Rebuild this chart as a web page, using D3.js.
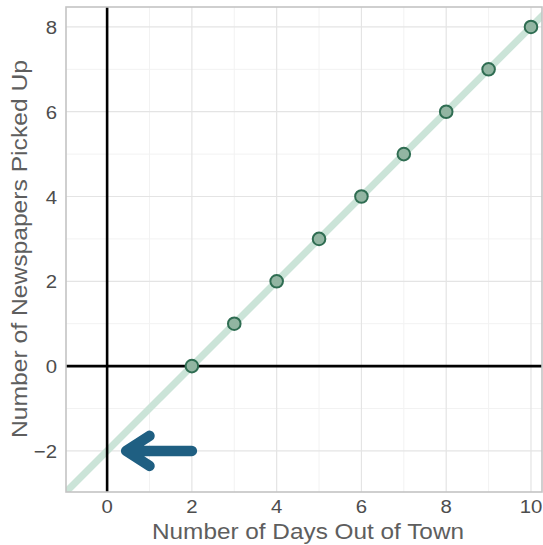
<!DOCTYPE html>
<html>
<head>
<meta charset="utf-8">
<script src="https://cdn.jsdelivr.net/npm/d3@7"></script>
<style>
  html, body { margin: 0; padding: 0; background: #fff; }
  svg { display: block; }
  text { font-family: "Liberation Sans", Arial, sans-serif; }
</style>
</head>
<body>
<svg id="chart" width="543" height="545"></svg>
<script>
// Days away vs. newspapers piled up at the door
const days = [2, 3, 4, 5, 6, 7, 8, 9, 10];
const papers = [0, 1, 2, 3, 4, 5, 6, 7, 8];
const xTicks = [0, 2, 4, 6, 8, 10];
const yTicks = [-2, 0, 2, 4, 6, 8];
const xMinor = [-1, 1, 3, 5, 7, 9];
const yMinor = [-1, 1, 3, 5, 7];
// Trend line y = x - 2, and the arrow marking its intercept
const lineX = [-2, 12];
const lineY = [-4, 10];
const arrowFrom = [2, -2];
const arrowTo = [0.45, -2];

const panel = { left: 66, right: 542, top: 7, bottom: 492 };

const svg = d3.select("#chart");
const x = d3.scaleLinear().domain([-0.97, 10.26]).range([panel.left, panel.right]);
const y = d3.scaleLinear().domain([-2.97, 8.47]).range([panel.bottom, panel.top]);

svg.append("clipPath").attr("id", "clip")
  .append("rect")
  .attr("x", panel.left).attr("y", panel.top)
  .attr("width", panel.right - panel.left).attr("height", panel.bottom - panel.top);

const g = svg.append("g").attr("clip-path", "url(#clip)");

// grid
g.selectAll(".xminor").data(xMinor).join("line")
  .attr("x1", d => x(d)).attr("x2", d => x(d))
  .attr("y1", panel.top).attr("y2", panel.bottom)
  .attr("stroke", "#f2f2f2").attr("stroke-width", 1);
g.selectAll(".yminor").data(yMinor).join("line")
  .attr("y1", d => y(d)).attr("y2", d => y(d))
  .attr("x1", panel.left).attr("x2", panel.right)
  .attr("stroke", "#f2f2f2").attr("stroke-width", 1);
g.selectAll(".xmajor").data(xTicks).join("line")
  .attr("x1", d => x(d)).attr("x2", d => x(d))
  .attr("y1", panel.top).attr("y2", panel.bottom)
  .attr("stroke", "#e4e4e4").attr("stroke-width", 1.2);
g.selectAll(".ymajor").data(yTicks).join("line")
  .attr("y1", d => y(d)).attr("y2", d => y(d))
  .attr("x1", panel.left).attr("x2", panel.right)
  .attr("stroke", "#e4e4e4").attr("stroke-width", 1.2);

// trend line
g.append("line")
  .attr("x1", x(lineX[0])).attr("y1", y(lineY[0]))
  .attr("x2", x(lineX[1])).attr("y2", y(lineY[1]))
  .attr("stroke", "#cbe4d8").attr("stroke-width", 7);

// coordinate axes through the origin
g.append("line")
  .attr("x1", x(0)).attr("x2", x(0))
  .attr("y1", panel.top).attr("y2", panel.bottom)
  .attr("stroke", "#000").attr("stroke-width", 2.6);
g.append("line")
  .attr("y1", y(0)).attr("y2", y(0))
  .attr("x1", panel.left).attr("x2", panel.right)
  .attr("stroke", "#000").attr("stroke-width", 2.6);

// points
g.selectAll(".pt").data(days).join("circle")
  .attr("cx", d => x(d))
  .attr("cy", (d, i) => y(papers[i]))
  .attr("r", 6.3)
  .attr("fill", "#92b5a2")
  .attr("stroke", "#2f6d52")
  .attr("stroke-width", 2);

// intercept arrow
const ax0 = x(arrowFrom[0]), ay = y(arrowFrom[1]), ax1 = x(arrowTo[0]);
const headLen = x(1.0) - x(arrowTo[0]);
const headHalf = 15;
g.append("path")
  .attr("d", `M${ax0},${ay}L${ax1},${ay}M${ax1 + headLen},${ay - headHalf}L${ax1},${ay}L${ax1 + headLen},${ay + headHalf}`)
  .attr("fill", "none")
  .attr("stroke", "#1f5f82")
  .attr("stroke-width", 10.5)
  .attr("stroke-linecap", "round")
  .attr("stroke-linejoin", "round");

// panel border
svg.append("rect")
  .attr("x", panel.left).attr("y", panel.top)
  .attr("width", panel.right - panel.left).attr("height", panel.bottom - panel.top)
  .attr("fill", "none").attr("stroke", "#c4c4c4").attr("stroke-width", 1.6);

// tick labels
const fmt = d => d < 0 ? "\u2212" + Math.abs(d) : String(d);
svg.selectAll(".xl").data(xTicks).join("text")
  .attr("transform", d => `translate(${x(d)},513) scale(1.1,1)`)
  .attr("text-anchor", "middle")
  .attr("font-size", 18.5).attr("fill", "#4d4d4d")
  .text(fmt);
svg.selectAll(".yl").data(yTicks).join("text")
  .attr("transform", d => `translate(57,${y(d) + 7}) scale(1.1,1)`)
  .attr("text-anchor", "end")
  .attr("font-size", 18.5).attr("fill", "#4d4d4d")
  .text(fmt);

// axis titles
svg.append("text")
  .attr("x", 152).attr("y", 538.5)
  .attr("textLength", 312).attr("lengthAdjust", "spacingAndGlyphs")
  .attr("font-size", 22.5).attr("fill", "#5e5e5e")
  .text("Number of Days Out of Town");
svg.append("text")
  .attr("transform", `translate(27,438) rotate(-90)`)
  .attr("textLength", 378).attr("lengthAdjust", "spacingAndGlyphs")
  .attr("font-size", 22.5).attr("fill", "#5e5e5e")
  .text("Number of Newspapers Picked Up");
</script>
</body>
</html>
